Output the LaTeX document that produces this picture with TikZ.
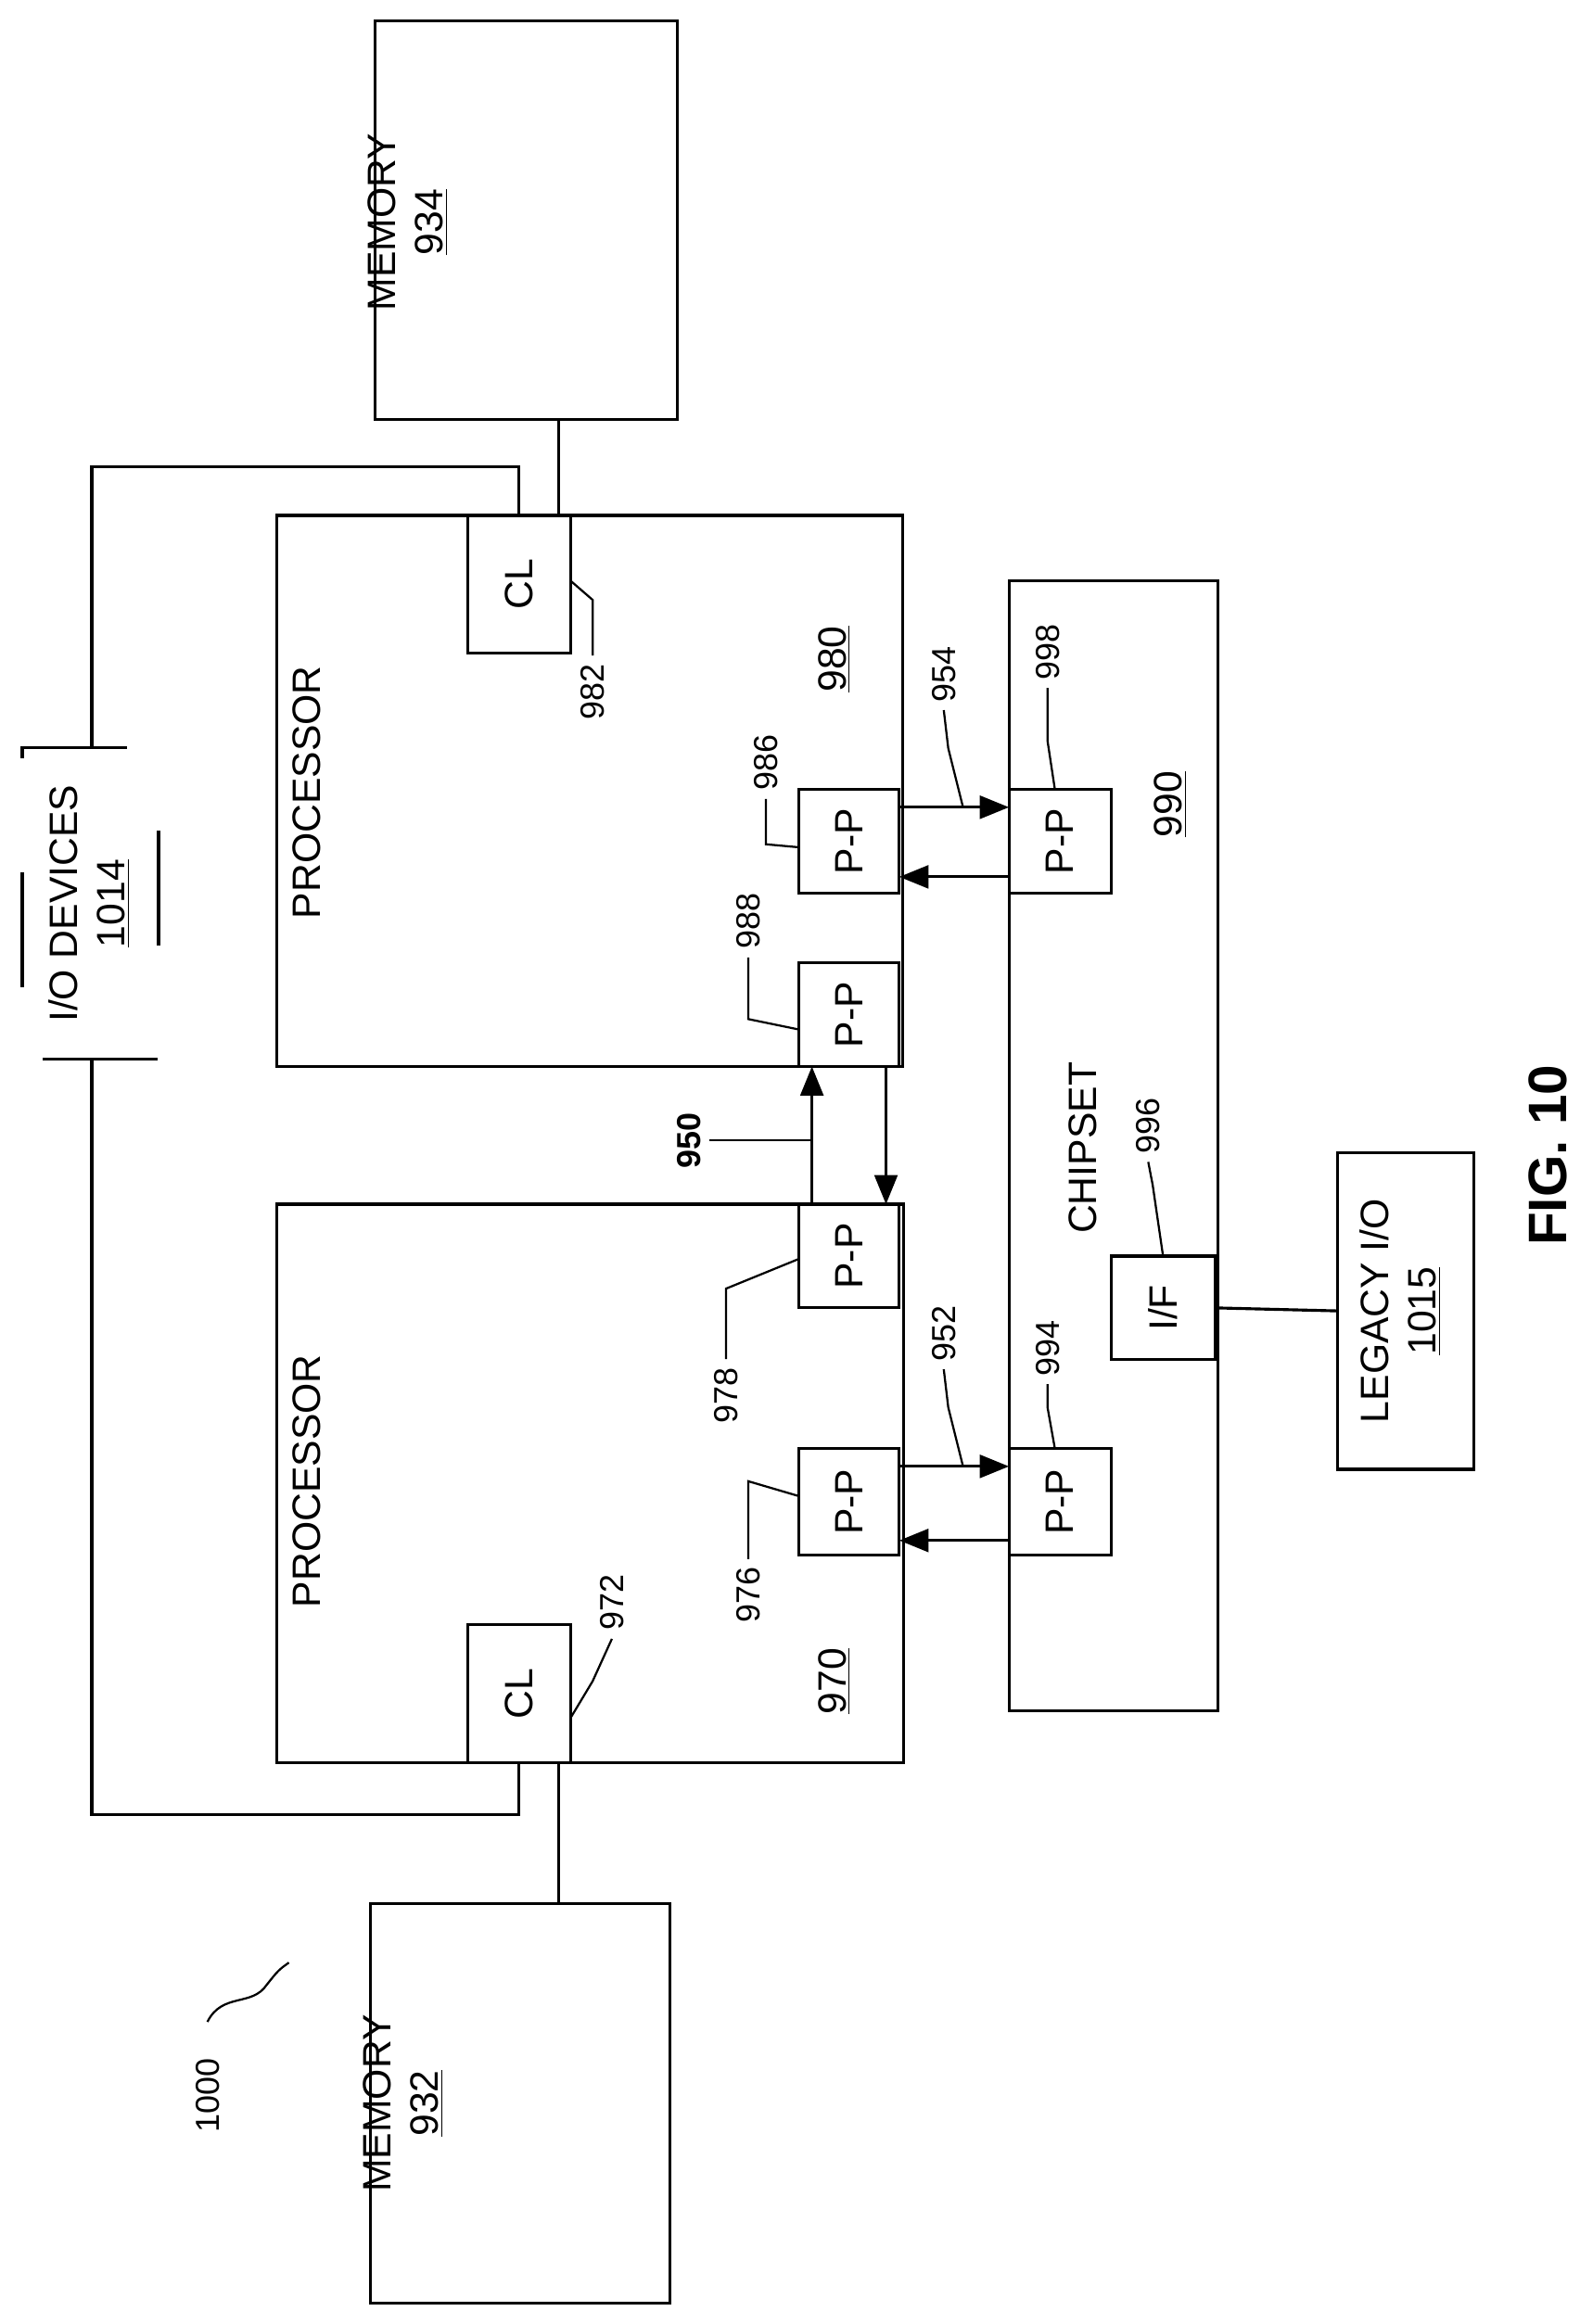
\documentclass[tikz,border=0pt]{standalone}
\usepackage{fontspec}
\setmainfont{Liberation Sans}
\usetikzlibrary{arrows.meta}
\begin{document}
\begin{tikzpicture}[x=0.025cm,y=-0.025cm,line width=1.4pt,
  box/.style={draw,line width=1.4pt,inner sep=0pt},
  txt/.style={rotate=90,align=center,font=\fontsize{19}{23}\selectfont},
  num/.style={rotate=90,font=\fontsize{16}{19}\selectfont},
  arr/.style={-{Triangle[length=14pt,width=11pt]}}]
\useasboundingbox (0,0) rectangle (1075,1569);
\newcommand\bx[5]{\node[box,minimum width={(#4-#2)*0.025cm},minimum height={(#5-#3)*0.025cm}] (#1) at ({(#2+#4)/2},{(#3+#5)/2}) {};}
% boxes
\bx{mem934}{253}{14}{457}{283}
\bx{proc980}{187}{348}{609}{720}
\bx{proc970}{187}{813}{610}{1190}
\bx{chip}{681}{392}{822}{1155}
\bx{mem932}{250}{1285}{452}{1555}
\bx{legacy}{903}{778}{995}{992}
\bx{cl982}{316}{348}{385}{441}
\bx{cl972}{316}{1097}{385}{1190}
\bx{pp986}{539}{533}{607}{603}
\bx{pp988}{539}{650}{607}{720}
\bx{pp978}{539}{813}{607}{883}
\bx{pp976}{539}{978}{607}{1050}
\bx{pp998}{681}{533}{750}{603}
\bx{pp994}{681}{978}{750}{1050}
\bx{if996}{750}{848}{820}{918}
\node[draw,dash pattern=on 55pt off 55pt,dash phase=-10pt,minimum width={92*0.025cm},minimum height={210*0.025cm}] (io) at (61,610) {};
% texts
\node[txt] (t934) at (275,150) {MEMORY\\\underline{934}};
\node[txt] (t932) at (272,1420) {MEMORY\\\underline{932}};
\node[txt] (tio) at (60,610) {I/O DEVICES\\\underline{1014}};
\node[txt] (tleg) at (945,885) {LEGACY I/O\\\underline{1015}};
\node[txt] (tp1) at (207,535) {PROCESSOR};
\node[txt] (tp2) at (207,1000) {PROCESSOR};
\node[txt] (tchip) at (731,775) {CHIPSET};
\node[txt] (t980) at (563,445) {\underline{980}};
\node[txt] (t970) at (563,1135) {\underline{970}};
\node[txt] (t990) at (790,543) {\underline{990}};
\node[txt] at (cl982) {CL};
\node[txt] at (cl972) {CL};
\node[txt] at (if996) {I/F};
\foreach \n in {pp986,pp988,pp978,pp976,pp998,pp994} \node[txt] at (\n) {P-P};
\node[rotate=90,font=\bfseries\fontsize{26}{30}\selectfont] (fig) at (1045,780) {FIG. 10};
% numeric labels
\node[num] (l982) at (400,467) {982};
\node[num] (l972) at (413,1082) {972};
\node[num] (l986) at (517,515) {986};
\node[num] (l988) at (505,622) {988};
\node[num] (l978) at (490,942) {978};
\node[num] (l976) at (505,1077) {976};
\node[num] (l998) at (707,440) {998};
\node[num] (l994) at (707,910) {994};
\node[num] (l954) at (637,455) {954};
\node[num] (l952) at (637,900) {952};
\node[num] (l996) at (775,760) {996};
\node[num,font=\bfseries\fontsize{16}{19}\selectfont] (l950) at (465,770) {950};
\node[num] (l1000) at (140,1415) {1000};
% connectors
\draw (377,283) -- (377,348);
\draw (377,1190) -- (377,1285);
\draw (io.north -| 62,0) -- (62,315) -| (350,348);
\draw (62,715) -- (62,1225) -| (350,1190);
\draw (if996.east) -- (legacy.west);
\draw[arr] (607,545) -- (681,545);
\draw[arr] (681,592) -- (607,592);
\draw[arr] (607,990) -- (681,990);
\draw[arr] (681,1040) -- (607,1040);
\draw[arr] (548,813) -- (548,720);
\draw[arr] (598,720) -- (598,813);
% leaders
\begin{scope}[line width=1pt]
\draw (385,392) -- (400,405) -- (l982.east);
\draw (385,1160) -- (400,1135) -- (l972.west);
\draw (539,572) -- (517,570) -- (l986.west);
\draw (539,695) -- (505,688) -- (l988.west);
\draw (539,850) -- (490,870) -- (l978.east);
\draw (539,1010) -- (505,1000) -- (l976.east);
\draw (712,533) -- (707,500) -- (l998.west);
\draw (712,978) -- (707,950) -- (l994.west);
\draw (650,545) -- (640,505) -- (l954.west);
\draw (650,990) -- (640,950) -- (l952.west);
\draw (785,848) -- (778,800) -- (l996.west);
\draw (548,770) -- (l950.south);
\draw (140,1365) .. controls (150,1345) and (170,1355) .. (180,1340) .. controls (188,1330) .. (195,1325);
\end{scope}
\end{tikzpicture}
\end{document}
